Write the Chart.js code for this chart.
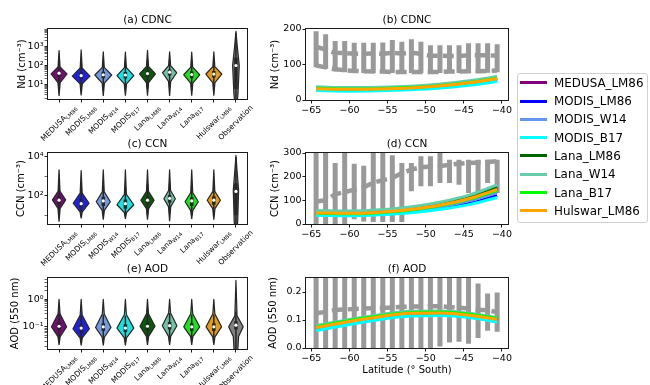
<!DOCTYPE html>
<html>
<head>
<meta charset="utf-8">
<title>CDNC, CCN and AOD</title>
<script src="https://cdn.jsdelivr.net/npm/chart.js@4.4.1/dist/chart.umd.min.js"></script>
<style>
  body { margin: 0; width: 650px; height: 385px; background: #fff; position: relative; overflow: hidden; font-family: "DejaVu Sans", sans-serif; }
  canvas { position: absolute; left: 0; top: 0; }
  #legend { position: absolute; left: 517px; top: 73px; width: 131px; height: 150px; box-sizing: border-box; border: 1px solid #d0d0d0; border-radius: 3px; background: #fff; }
  .item { position: absolute; left: 0; width: 129px; height: 18px; font-size: 11.9px; line-height: 18px; white-space: nowrap; color: #000; }
  .swatch { position: absolute; left: 2px; top: 7.5px; width: 27px; height: 3px; }
  .name { position: absolute; left: 36px; top: 0; }
</style>
</head>
<body>
<canvas id="pa" width="650" height="385"></canvas>
<canvas id="pb" width="650" height="385"></canvas>
<canvas id="pc" width="650" height="385"></canvas>
<canvas id="pd" width="650" height="385"></canvas>
<canvas id="pe" width="650" height="385"></canvas>
<canvas id="pf" width="650" height="385"></canvas>
<div id="legend"></div>
<script>
// ---- names and colours ----
const models = ['MEDUSA_LM86', 'MODIS_LM86', 'MODIS_W14', 'MODIS_B17', 'Lana_LM86', 'Lana_W14', 'Lana_B17', 'Hulswar_LM86'];
const lineColors = ['#800080', '#0000ff', '#6495ed', '#00ffff', '#006400', '#66cdaa', '#00ff00', '#ffa500'];
const violinFill = ['#701070', '#2020df', '#759adc', '#20dfdf', '#0c570c', '#73c0a6', '#20df20', '#df9c20', '#808080'];
const catMain = ['MEDUSA', 'MODIS', 'MODIS', 'MODIS', 'Lana', 'Lana', 'Lana', 'Hulswar', 'Observation'];
const catSub = ['LM86', 'LM86', 'W14', 'B17', 'LM86', 'W14', 'B17', 'LM86', ''];
const edge = '#262626';
const obsGray = '#999999';

// ---- violins: [tipLo, neckLo, peak, neckHi, tipHi], half widths [peak, neckLo, neckHi], box [whiskLo, q1, median, q3, whiskHi]
const cdncShape = [[2.6, 13, 37, 85, 600], [2.8, 11, 28, 75, 650], [2.6, 12, 32, 80, 520], [2.7, 11, 30, 78, 500],
  [2.7, 13, 37, 90, 620], [2.6, 15, 42, 100, 520], [2.7, 12, 33, 82, 500], [2.7, 13, 36, 88, 520], [0.3, 3, 100, 1000, 6000]];
const cdncWidth = [[0.36, 0.05, 0.045], [0.4, 0.05, 0.045], [0.38, 0.05, 0.045], [0.38, 0.05, 0.045],
  [0.36, 0.05, 0.045], [0.32, 0.05, 0.045], [0.36, 0.05, 0.045], [0.36, 0.05, 0.045], [0.15, 0.09, 0.06]];
const cdncBox = [[6, 25, 40, 55, 200], [5, 20, 30, 45, 150], [5, 22, 33, 48, 160], [5, 21, 32, 46, 150],
  [6, 25, 38, 55, 200], [7, 30, 45, 62, 200], [5, 22, 34, 50, 170], [6, 24, 36, 52, 190], [0.3, 6, 100, 260, 5000]];

const ccnShape = [[4.7, 23, 62, 170, 2200], [7, 15, 42, 140, 2000], [6, 18, 50, 160, 2200], [6.5, 14, 35, 120, 2200],
  [6, 22, 60, 170, 2200], [5, 28, 72, 190, 2200], [6.5, 18, 50, 150, 2200], [6, 22, 60, 170, 2200], [0.5, 5, 200, 2000, 12000]];
const ccnWidth = [[0.3, 0.05, 0.045], [0.36, 0.05, 0.045], [0.32, 0.05, 0.045], [0.38, 0.05, 0.045],
  [0.3, 0.05, 0.045], [0.26, 0.05, 0.045], [0.3, 0.05, 0.045], [0.3, 0.05, 0.045], [0.12, 0.08, 0.05]];
const ccnBox = [[10, 35, 60, 95, 400], [9, 25, 40, 70, 300], [10, 30, 55, 90, 350], [9, 22, 40, 65, 300],
  [10, 35, 60, 95, 400], [12, 45, 75, 110, 450], [10, 30, 55, 85, 350], [10, 35, 60, 95, 400], [0.5, 10, 170, 450, 10000]];

const aodShape = [[0.022, 0.044, 0.1, 0.3, 1.0], [0.021, 0.04, 0.085, 0.27, 1.0], [0.021, 0.042, 0.095, 0.29, 1.0], [0.021, 0.04, 0.09, 0.28, 1.0],
  [0.022, 0.045, 0.105, 0.3, 1.0], [0.022, 0.045, 0.11, 0.32, 1.0], [0.022, 0.044, 0.1, 0.3, 1.0], [0.022, 0.043, 0.1, 0.3, 1.0], [0.001, 0.045, 0.1, 0.25, 4.8]];
const aodWidth = [[0.34, 0.05, 0.045], [0.37, 0.05, 0.045], [0.35, 0.05, 0.045], [0.38, 0.05, 0.045],
  [0.34, 0.05, 0.045], [0.33, 0.05, 0.045], [0.36, 0.05, 0.045], [0.35, 0.05, 0.045], [0.33, 0.12, 0.05]];
const aodBox = [[0.03, 0.075, 0.105, 0.14, 0.3], [0.028, 0.06, 0.09, 0.125, 0.25], [0.03, 0.07, 0.1, 0.135, 0.28], [0.028, 0.065, 0.09, 0.125, 0.25],
  [0.03, 0.075, 0.105, 0.14, 0.3], [0.03, 0.08, 0.11, 0.15, 0.32], [0.03, 0.07, 0.1, 0.135, 0.28], [0.03, 0.07, 0.1, 0.135, 0.28], [0.005, 0.08, 0.115, 0.16, 0.35]];

// log axes
const cdncRange = [1.8, 8000], cdncMajor = [10, 100, 1000], cdncMajorLabels = ['10¹', '10²', '10³'];
const ccnRange = [3.6, 16000], ccnMajor = [100, 10000], ccnMajorLabels = ['10²', '10⁴'], ccnMinor = [10, 1000];
const aodRange = [0.0157, 5.9], aodMajor = [0.1, 1], aodMajorLabels = ['10⁻¹', '10⁰'];

// ---- latitude panels ----
const obsLat = [-64.375, -63.125, -61.875, -60.625, -59.375, -58.125, -56.875, -55.625, -54.375, -53.125,
  -51.875, -50.625, -49.375, -48.125, -46.875, -45.625, -44.375, -43.125, -41.875, -40.625];
const lineLat = [-64.375, -60, -56, -52, -48, -44, -40.625];
const latTicks = [-65, -60, -55, -50, -45, -40];
const latTickLabels = ['\u221265', '\u221260', '\u221255', '\u221250', '\u221245', '\u221240'];

const ndModels = [
  [32, 30, 31, 34, 40, 49, 59], [30, 28, 29, 32, 37, 45, 55], [31, 29, 30, 33, 38, 46, 56], [27, 25, 26, 29, 34, 42, 52],
  [34, 32, 33, 36, 42, 51, 62], [37, 35, 36, 39, 45, 55, 66], [33, 31, 32, 35, 41, 50, 61], [32, 30, 31, 34, 40, 49, 60]];
const ndObsMean = [150, 142, 133, 132, 130, 130, 131, 130, 133, 131, 133, 130, 125, 125, 124, 124, 126, 126, 126, 125];
const ndObsHigh = [194, 185, 166, 166, 161, 161, 161, 162, 169, 164, 171, 164, 154, 154, 154, 154, 160, 160, 160, 157];
const ndObsLow = [92, 88, 80, 78, 77, 76, 76, 76, 76, 76, 76, 76, 76, 76, 76, 76, 76, 76, 77, 78];
const ndObsMedian = [97, 92, 87, 84, 82, 81, 80, 80, 79, 79, 79, 79, 79, 79, 80, 80, 81, 81, 82, 83];
const ndTicks = [0, 100, 200], ndTickLabels = ['0', '100', '200'];

const ccnModels = [
  [48, 46, 51, 62, 82, 112, 150], [40, 38, 42, 51, 66, 89, 120], [44, 42, 46, 56, 73, 100, 133], [37, 35, 39, 47, 62, 84, 112],
  [50, 48, 53, 65, 85, 117, 156], [57, 55, 60, 72, 93, 125, 165], [45, 43, 48, 59, 78, 107, 142], [47, 45, 50, 61, 80, 110, 146]];
const ccnObsMean = [95, 100, 125, 135, 145, 155, 175, 185, 195, 215, 230, 240, 243, 245, 250, 255, 258, 260, 262, 265];
const ccnObsHigh = [330, 330, 258, 330, 255, 246, 330, 330, 290, 258, 258, 286, 286, 300, 272, 272, 272, 272, 272, 272];
const ccnObsLow = [-30, -30, -30, -30, 20, 11, 8, 8, 8, 8, 138, 159, 159, 173, 173, 166, 131, 131, 173, 131];
const ccnTicks = [0, 100, 200, 300], ccnTickLabels = ['0', '100', '200', '300'];

const aodModels = [
  [0.072, 0.094, 0.111, 0.123, 0.124, 0.115, 0.101], [0.066, 0.088, 0.105, 0.117, 0.118, 0.110, 0.096],
  [0.069, 0.091, 0.108, 0.120, 0.121, 0.113, 0.099], [0.062, 0.084, 0.102, 0.114, 0.116, 0.108, 0.093],
  [0.075, 0.097, 0.114, 0.126, 0.127, 0.118, 0.104], [0.080, 0.102, 0.119, 0.131, 0.132, 0.123, 0.108],
  [0.076, 0.098, 0.115, 0.127, 0.129, 0.120, 0.106], [0.073, 0.095, 0.112, 0.124, 0.125, 0.116, 0.102]];
const aodObsMean = [0.124, 0.129, 0.136, 0.138, 0.139, 0.141, 0.142, 0.143, 0.145, 0.147, 0.148, 0.148, 0.149, 0.149, 0.146, 0.144, 0.141, 0.137, 0.135, 0.128];
const aodObsHigh = [0.3, 0.3, 0.3, 0.3, 0.3, 0.3, 0.3, 0.3, 0.3, 0.3, 0.3, 0.3, 0.3, 0.3, 0.3, 0.3, 0.3, 0.23, 0.195, 0.198];
const aodObsLow = [-0.05, -0.05, -0.05, -0.05, -0.05, -0.05, -0.05, -0.05, -0.05, -0.05, -0.05, -0.05, -0.05, 0.005, 0.02, 0.022, 0.015, 0.036, 0.062, 0.058];
const aodTicks = [0, 0.1, 0.2], aodTickLabels = ['0.0', '0.1', '0.2'];

Chart.defaults.font.family = '"DejaVu Sans", sans-serif';
Chart.defaults.color = '#000';

// axes box drawn on all four sides
const frame = {
  id: 'frame',
  afterDatasetsDraw(chart) {
    const { ctx, chartArea: a } = chart;
    ctx.save();
    ctx.strokeStyle = '#1a1a1a';
    ctx.lineWidth = 1;
    ctx.strokeRect(a.left - 0.5, a.top - 0.5, a.right - a.left + 1, a.bottom - a.top + 1);
    ctx.restore();
  }
};

// rotated category names with subscripts under the violins
const catLabels = {
  id: 'catLabels',
  afterDraw(chart) {
    const { ctx, chartArea, scales: { x } } = chart;
    ctx.save();
    ctx.fillStyle = '#000';
    ctx.textBaseline = 'middle';
    ctx.textAlign = 'left';
    catMain.forEach((name, i) => {
      ctx.font = '7.5px "DejaVu Sans"';
      const w1 = ctx.measureText(name).width;
      ctx.font = '5.4px "DejaVu Sans"';
      const w2 = catSub[i] ? ctx.measureText(catSub[i]).width : 0;
      const w = w1 + w2;
      const side = (w + 8) * Math.SQRT1_2;
      ctx.save();
      ctx.translate(x.getPixelForValue(i), chartArea.bottom + 5 + side / 2);
      ctx.rotate(-Math.PI / 4);
      ctx.font = '7.5px "DejaVu Sans"';
      ctx.fillText(name, -w / 2, 0);
      if (catSub[i]) {
        ctx.font = '5.4px "DejaVu Sans"';
        ctx.fillText(catSub[i], -w / 2 + w1, 2.2);
      }
      ctx.restore();
    });
    ctx.restore();
  }
};

const titleOpts = (text) => ({
  display: true, text, fullSize: false, color: '#000',
  font: { size: 10.5, weight: 'normal', lineHeight: 1.2 },
  padding: { top: 0, bottom: 2.4 }
});

const isMajor = (v, majors) => majors.findIndex(m => Math.abs(v - m) / m < 1e-6);

function minorTicks(range) {
  const out = [];
  for (let e = Math.floor(Math.log10(range[0])); e <= Math.ceil(Math.log10(range[1])); e++) {
    for (let k = 2; k <= 9; k++) {
      const v = k * Math.pow(10, e);
      if (v >= range[0] && v <= range[1]) out.push(v);
    }
  }
  return out;
}

function violinPanel(id, box, title, yTitle, yTitleX, range, majors, majorLabels, minors, shapes, widths, boxes) {
  const datasets = [];
  shapes.forEach((s, i) => {
    const w = widths[i];
    const side = [[s[0], 0], [s[1], w[1]], [s[2], w[0]], [s[3], w[2]], [s[4], 0]];
    const outline = side.map(([y, d]) => ({ x: i + d, y }))
      .concat(side.slice(1, 4).reverse().map(([y, d]) => ({ x: i - d, y })))
      .concat([{ x: i, y: s[0] }]);
    datasets.push({
      data: outline, borderColor: edge, borderWidth: 1.2, borderJoinStyle: 'round',
      backgroundColor: violinFill[i], fill: 'shape', pointRadius: 0, order: 4, clip: 0
    });
  });
  const whisk = [], quart = [], med = [];
  boxes.forEach((b, i) => {
    whisk.push({ x: i, y: b[0] }, { x: i, y: b[4] }, { x: i, y: null });
    quart.push({ x: i, y: b[1] }, { x: i, y: b[3] }, { x: i, y: null });
    med.push({ x: i, y: b[2] });
  });
  datasets.push({ data: whisk, borderColor: edge, borderWidth: 1.5, pointRadius: 0, spanGaps: false, order: 3, clip: 0 });
  datasets.push({ data: quart, borderColor: edge, borderWidth: 3.5, borderCapStyle: 'butt', pointRadius: 0, spanGaps: false, order: 2, clip: 0 });
  datasets.push({ data: med, showLine: false, pointRadius: 1.6, pointBorderWidth: 0, pointBackgroundColor: '#fff', order: 1, clip: 0 });

  const yTicks = majors.concat(minors);
  new Chart(document.getElementById(id), {
    type: 'line',
    data: { datasets },
    options: {
      responsive: false, animation: false, devicePixelRatio: 1, events: [],
      layout: { padding: { left: 0, right: 650 - box.R, top: box.T - 15, bottom: 385 - box.B - 10 } },
      plugins: { legend: { display: false }, tooltip: { enabled: false }, title: titleOpts(title) },
      scales: {
        x: {
          type: 'linear', min: -0.5, max: 8.5,
          afterBuildTicks: s => { s.ticks = catMain.map((_, i) => ({ value: i })); },
          ticks: { display: false },
          grid: { drawOnChartArea: false, tickLength: 3.5, tickColor: '#000', tickWidth: 0.9 },
          border: { display: false },
          afterFit: s => { s.height = 10; }
        },
        y: {
          type: 'logarithmic', min: range[0], max: range[1],
          afterBuildTicks: s => { s.ticks = yTicks.map(v => ({ value: v })); },
          ticks: {
            autoSkip: false, padding: 1, font: { size: 9.5 }, color: '#000',
            callback: v => { const k = isMajor(v, majors); return k >= 0 ? majorLabels[k] : ''; }
          },
          grid: {
            drawOnChartArea: false, tickLength: 3.5, tickColor: '#000',
            tickWidth: c => (isMajor(c.tick.value, majors) >= 0 ? 0.9 : 0.6)
          },
          border: { display: false },
          title: { display: true, text: yTitle, color: '#000', font: { size: 10, lineHeight: 1.2 }, padding: { top: yTitleX - 6, bottom: 0 } },
          afterFit: s => { s.width = box.L; }
        }
      }
    },
    plugins: [frame, catLabels]
  });
}

function latPanel(cfg) {
  const datasets = [];
  const bars = [];
  obsLat.forEach((x, i) => bars.push({ x, y: cfg.low[i] }, { x, y: cfg.high[i] }, { x, y: null }));
  datasets.push({ data: bars, borderColor: obsGray, borderWidth: 5, borderCapStyle: 'butt', pointRadius: 0, spanGaps: false, order: 30, clip: 0 });
  datasets.push({
    data: obsLat.map((x, i) => ({ x, y: cfg.mean[i] })), borderColor: obsGray, borderWidth: 4.5,
    borderDash: [11, 5], pointRadius: 0, order: 29, clip: 0
  });
  if (cfg.second) {
    datasets.push({
      data: obsLat.map((x, i) => ({ x, y: cfg.second[i] })), borderColor: obsGray, borderWidth: 4.5,
      borderDash: [11, 5], pointRadius: 0, order: 28, clip: 0
    });
  }
  cfg.models.forEach((vals, i) => datasets.push({
    data: lineLat.map((x, j) => ({ x, y: vals[j] })), borderColor: lineColors[i], borderWidth: 3,
    cubicInterpolationMode: 'monotone', pointRadius: 0, order: 10 - i, clip: 0
  }));

  const b = cfg.box;
  const xh = cfg.xTitle ? 28 : 16;
  new Chart(document.getElementById(cfg.id), {
    type: 'line',
    data: { datasets },
    options: {
      responsive: false, animation: false, devicePixelRatio: 1, events: [],
      layout: { padding: { left: 260, right: 650 - b.R, top: b.T - 15, bottom: 385 - b.B - xh } },
      plugins: { legend: { display: false }, tooltip: { enabled: false }, title: titleOpts(cfg.title) },
      scales: {
        x: {
          type: 'linear', min: -65.7, max: -39.2,
          afterBuildTicks: s => { s.ticks = latTicks.map(v => ({ value: v })); },
          ticks: { autoSkip: false, maxRotation: 0, padding: 1, font: { size: 9.5 }, color: '#000', callback: (v, i) => latTickLabels[i] },
          grid: { drawOnChartArea: false, tickLength: 3.5, tickColor: '#000', tickWidth: 0.9 },
          border: { display: false },
          title: cfg.xTitle ? { display: true, text: cfg.xTitle, color: '#000', font: { size: 10, lineHeight: 1.2 }, padding: { top: 0, bottom: 0 } } : { display: false },
          afterFit: s => { s.height = xh; }
        },
        y: {
          type: 'linear', min: 0, max: cfg.yMax,
          afterBuildTicks: s => { s.ticks = cfg.yTicks.map(v => ({ value: v })); },
          ticks: { autoSkip: false, padding: 1, font: { size: 9.5 }, color: '#000', callback: (v, i) => cfg.yTickLabels[i] },
          grid: { drawOnChartArea: false, tickLength: 3.5, tickColor: '#000', tickWidth: 0.9 },
          border: { display: false },
          title: { display: true, text: cfg.yTitle, color: '#000', font: { size: 10, lineHeight: 1.2 }, padding: { top: cfg.yTitleX - 266, bottom: 0 } },
          afterFit: s => { s.width = b.L - 260; }
        }
      }
    },
    plugins: [frame]
  });
}

violinPanel('pa', { L: 48, R: 247, T: 29, B: 99 }, '(a) CDNC', 'Nd (cm⁻³)', 22,
  cdncRange, cdncMajor, cdncMajorLabels, minorTicks(cdncRange), cdncShape, cdncWidth, cdncBox);
violinPanel('pc', { L: 48, R: 247, T: 153, B: 224 }, '(c) CCN', 'CCN (cm⁻³)', 21,
  ccnRange, ccnMajor, ccnMajorLabels, ccnMinor, ccnShape, ccnWidth, ccnBox);
violinPanel('pe', { L: 48, R: 247, T: 278, B: 349 }, '(e) AOD', 'AOD (550 nm)', 15,
  aodRange, aodMajor, aodMajorLabels, minorTicks(aodRange), aodShape, aodWidth, aodBox);

latPanel({ id: 'pb', box: { L: 306, R: 508, T: 29, B: 100 }, title: '(b) CDNC', yTitle: 'Nd (cm⁻³)', yTitleX: 275,
  yMax: 200, yTicks: ndTicks, yTickLabels: ndTickLabels, models: ndModels,
  mean: ndObsMean, low: ndObsLow, high: ndObsHigh, second: ndObsMedian });
latPanel({ id: 'pd', box: { L: 306, R: 508, T: 153, B: 224 }, title: '(d) CCN', yTitle: 'CCN (cm⁻³)', yTitleX: 275,
  yMax: 300, yTicks: ccnTicks, yTickLabels: ccnTickLabels, models: ccnModels,
  mean: ccnObsMean, low: ccnObsLow, high: ccnObsHigh });
latPanel({ id: 'pf', box: { L: 306, R: 508, T: 278, B: 348 }, title: '(f) AOD', yTitle: 'AOD (550 nm)', yTitleX: 273,
  yMax: 0.25, yTicks: aodTicks, yTickLabels: aodTickLabels, models: aodModels,
  mean: aodObsMean, low: aodObsLow, high: aodObsHigh, xTitle: 'Latitude (° South)' });

// legend for the model lines
const legend = document.getElementById('legend');
models.forEach((name, i) => {
  const row = document.createElement('div');
  row.className = 'item';
  row.style.top = (18.3 * i - 0.3) + 'px';
  row.innerHTML = '<span class="swatch" style="background:' + lineColors[i] + '"></span><span class="name">' + name + '</span>';
  legend.appendChild(row);
});
</script>
</body>
</html>
